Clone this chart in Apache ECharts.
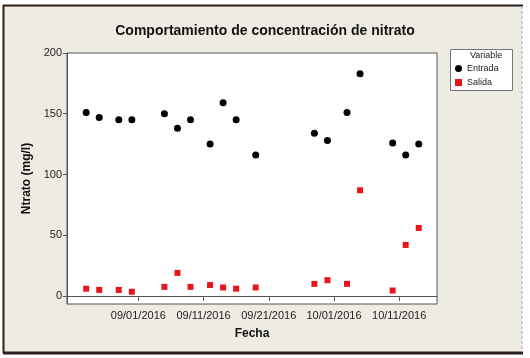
<!DOCTYPE html>
<html>
<head>
<meta charset="utf-8">
<script src="https://cdn.jsdelivr.net/npm/echarts@6/dist/echarts.min.js"></script>
<style>
html,body{margin:0;padding:0;background:#ffffff;}
#c{width:530px;height:358px;}
</style>
</head>
<body>
<div id="c"></div>
<script>
var dates = ['2016-08-24','2016-08-26','2016-08-29','2016-08-31','2016-09-05','2016-09-07','2016-09-09','2016-09-12','2016-09-14','2016-09-16','2016-09-19','2016-09-28','2016-09-30','2016-10-03','2016-10-05','2016-10-10','2016-10-12','2016-10-14'];
var entrada = [151, 147, 145, 145, 150, 138, 145, 125, 159, 145, 116, 134, 128, 151, 183, 126, 116, 125];
var salida = [6, 5, 5, 3.5, 7.5, 19, 7.5, 9, 7, 6, 7, 10, 13, 10, 87, 4.5, 42, 56];
var xTicks = ['2016-09-01','2016-09-11','2016-09-21','2016-10-01','2016-10-11'];
var yTicks = [0, 50, 100, 150, 200];

function ts(s){ var p = s.split('-'); return new Date(+p[0], +p[1]-1, +p[2]).getTime(); }
var DAY = 86400000;
var xMin = ts('2016-09-01') - 10.94*DAY;
var xMax = ts('2016-09-01') + 45.8*DAY;
var xTickTs = xTicks.map(ts);
function pairs(vals){ return dates.map(function(d,i){ return [ts(d), vals[i]]; }); }

var chart = echarts.init(document.getElementById('c'), null, {renderer:'canvas'});
var font = 'Liberation Sans';
chart.setOption({
  backgroundColor: '#ffffff',
  animation: false,
  title: {
    text: 'Comportamiento de concentración de nitrato',
    left: 'center', top: 19,
    textStyle: {fontFamily: font, fontSize: 14, fontWeight: 'bold', color: '#111'}
  },
  graphic: [
    {type:'rect', z:-10, shape:{x:4, y:6, width:518, height:346}, style:{fill:'#EEEBE2', stroke:null}},
    {type:'line', z:-9, shape:{x1:3, y1:5.5, x2:523, y2:5.5}, style:{stroke:'#2a1f1a', lineWidth:2}},
    {type:'line', z:-9, shape:{x1:3.5, y1:5, x2:3.5, y2:353}, style:{stroke:'#2a1f1a', lineWidth:2}},
    {type:'line', z:-9, shape:{x1:3, y1:353, x2:523, y2:353}, style:{stroke:'#2a1f1a', lineWidth:3}},
    {type:'line', z:-9, shape:{x1:522, y1:6, x2:522, y2:352}, style:{stroke:'#aaa', lineWidth:1, lineDash:[3,2]}},
    {type:'rect', z:-5, shape:{x:67, y:53, width:370, height:251}, style:{fill:'#ffffff', stroke:'#555', lineWidth:1}},
    {type:'rect', z:-5, shape:{x:450.5, y:49.5, width:62, height:41}, style:{fill:'#ffffff', stroke:'#777', lineWidth:1}},
    {type:'text', z:5, left:470, top:51, style:{text:'Variable', fontFamily:font, fontSize:9, fill:'#222'}}
  ],
  legend: {
    orient: 'vertical', left: 455, top: 64,
    itemWidth: 7, itemHeight: 7, itemGap: 5, padding: 0,
    textStyle: {fontFamily: font, fontSize: 9, color: '#222'},
    data: [{name:'Entrada', icon:'circle'}, {name:'Salida', icon:'rect'}]
  },
  grid: {left: 67, top: 53, width: 370, height: 251, containLabel: false},
  xAxis: {
    type: 'value', min: xMin, max: xMax,
    name: 'Fecha', nameLocation: 'middle', nameGap: 24,
    nameTextStyle: {fontFamily: font, fontSize: 12, fontWeight: 'bold', color: '#111'},
    axisLine: {show: true, lineStyle: {color: '#555'}},
    axisTick: {show: true, length: 5, lineStyle:{color:'#555'}, customValues: xTickTs},
    axisLabel: {fontFamily: font, fontSize: 11, color: '#222', margin: 6, customValues: xTickTs,
      formatter: function(v){ var d = new Date(v); function z(n){return (n<10?'0':'')+n;} return z(d.getMonth()+1)+'/'+z(d.getDate())+'/'+d.getFullYear(); }},
    splitLine: {show: false}
  },
  yAxis: {
    type: 'value', min: -6.6, max: 200,
    name: 'Ntrato (mg/l)', nameLocation: 'middle', nameGap: 30,
    nameTextStyle: {fontFamily: font, fontSize: 12, fontWeight: 'bold', color: '#111'},
    axisLine: {show: true, lineStyle: {color: '#555'}},
    axisTick: {show: true, length: 4, lineStyle:{color:'#555'}, customValues: yTicks},
    axisLabel: {fontFamily: font, fontSize: 11, color: '#222', margin: 5, customValues: yTicks},
    splitLine: {show: false}
  },
  series: [
    {name:'Entrada', type:'scatter', symbol:'circle', symbolSize:7, itemStyle:{color:'#000000', opacity:1}, data: pairs(entrada)},
    {name:'Salida', type:'scatter', symbol:'rect', symbolSize:6, itemStyle:{color:'#E8161C', opacity:1}, data: pairs(salida)}
  ]
});
</script>
</body>
</html>
